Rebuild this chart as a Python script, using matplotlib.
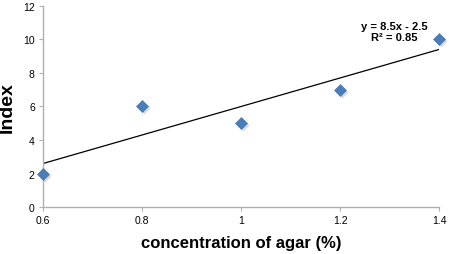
import numpy as np
import matplotlib
matplotlib.use("Agg")
import matplotlib.pyplot as plt

plt.rcParams['font.family'] = ['Liberation Sans', 'DejaVu Sans']

# data
agar = [0.6, 0.8, 1.0, 1.2, 1.4]
index_vals = [2, 6, 5, 7, 10]
x_ticks = [0.6, 0.8, 1.0, 1.2, 1.4]
x_tick_labels = ["0.6", "0.8", "1", "1.2", "1.4"]
y_ticks = [0, 2, 4, 6, 8, 10, 12]

fig = plt.figure(figsize=(4.54, 2.55), dpi=100)
ax = fig.add_axes([0.095, 0.184, 0.872, 0.789])

# linear trendline
slope, icpt = np.polyfit(agar, index_vals, 1)
xs = np.array([min(agar), max(agar)])
ax.plot(xs, slope * xs + icpt, color="black", lw=0.9, zorder=2)

# shadow then markers
ax.plot(np.array(agar) + 0.004, np.array(index_vals) - 0.12, "D", ms=6.5,
        color="#b8b8b8", alpha=0.5, mec="none", zorder=3, clip_on=False)
ax.plot(agar, index_vals, "D", ms=6.5, color="#4a7ebb", mec="#3f6fa8",
        mew=0.4, zorder=4, clip_on=False)

ax.set_xlim(0.6, 1.4)
ax.set_ylim(0, 12)
ax.set_xticks(x_ticks)
ax.set_xticklabels(x_tick_labels)
ax.set_yticks(y_ticks)

for s in ["top", "right"]:
    ax.spines[s].set_visible(False)
for s in ["left", "bottom"]:
    ax.spines[s].set_color("#b0b0b0")
    ax.spines[s].set_linewidth(1.0)
ax.tick_params(axis="both", colors="#b0b0b0", labelcolor="black",
               labelsize=7.5, length=3, width=0.8, direction="out", pad=3)

ax.set_xlabel("concentration of agar (%)", fontsize=12, fontweight="bold", labelpad=7)
ax.set_ylabel("Index", fontsize=14, fontweight="bold", labelpad=5)

r2 = np.corrcoef(agar, index_vals)[0, 1] ** 2
ax.text(1.31, 10.45, f"y = {slope:.1f}x - {abs(icpt):.1f}\nR² = {r2:.2f}",
        ha="center", va="center", fontsize=8, fontweight="bold", linespacing=1.1)

fig.savefig("out.png", dpi=100)
